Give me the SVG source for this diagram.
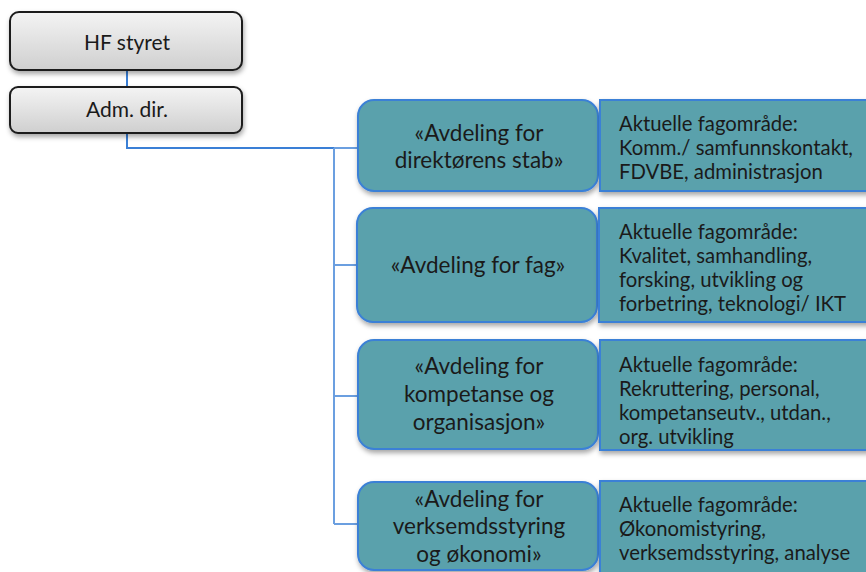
<svg xmlns="http://www.w3.org/2000/svg" width="866" height="572" viewBox="0 0 866 572">
<style>
.gray{fill:url(#gg);stroke:#1c1c1c;stroke-width:2;filter:url(#sh)}
.dept{fill:#5aa1ac;stroke:#3a80d6;stroke-width:2;filter:url(#sh)}
.area{fill:#5aa1ac;stroke:#3a80d6;stroke-width:2;filter:url(#sh)}
.t{font-family:Lato,"Liberation Sans",sans-serif;fill:#1a1a1a}
.tg{font-size:21px;text-anchor:middle}
.td{font-size:22.5px;text-anchor:middle}
.ta{font-size:20.3px}
.c1{stroke:#3a7fd6;stroke-width:2;fill:none}
.c2{stroke:#6b9fe0;stroke-width:2;fill:none}
</style>
<defs>
<linearGradient id="gg" x1="0" y1="0" x2="0" y2="1">
<stop offset="0" stop-color="#f4f4f4"/>
<stop offset="1" stop-color="#cfcfcf"/>
</linearGradient>
<filter id="sh" x="-10%" y="-10%" width="120%" height="130%">
<feDropShadow dx="1" dy="3" stdDeviation="2.5" flood-color="#000" flood-opacity="0.35"/>
</filter>
</defs>
<g id="connectors">
<path class="c1" d="M127 70V87"/>
<path class="c1" d="M127 133V148H334"/>
<path class="c2" d="M334 148V524"/>
<path class="c2" d="M334 148H358"/>
<path class="c2" d="M334 265H357"/>
<path class="c2" d="M334 396H358"/>
<path class="c2" d="M334 524H358"/>
</g>
<g id="hf-styret">
<rect class="gray" x="10" y="12" width="232" height="58" rx="9"/>
<text class="t tg" x="127" y="50">HF styret</text>
</g>
<g id="adm-dir">
<rect class="gray" x="10" y="87" width="232" height="46" rx="8"/>
<text class="t tg" x="127" y="117">Adm. dir.</text>
</g>
<g id="dept-stab">
<rect class="dept" x="358" y="100" width="240" height="91" rx="16"/>
<text class="t td" x="479" y="141">«Avdeling for</text>
<text class="t td" x="479" y="168">direktørens stab»</text>
</g>
<g id="area-stab">
<rect class="area" x="600" y="100" width="280" height="91"/>
<text class="t ta" x="619" y="131">Aktuelle fagområde:</text>
<text class="t ta" x="619" y="155">Komm./ samfunnskontakt,</text>
<text class="t ta" x="619" y="179">FDVBE, administrasjon</text>
</g>
<g id="dept-fag">
<rect class="dept" x="357" y="208" width="240" height="114" rx="16"/>
<text class="t td" x="478" y="273">«Avdeling for fag»</text>
</g>
<g id="area-fag">
<rect class="area" x="599" y="208" width="281" height="114"/>
<text class="t ta" x="619" y="239">Aktuelle fagområde:</text>
<text class="t ta" x="619" y="263">Kvalitet, samhandling,</text>
<text class="t ta" x="619" y="287">forsking, utvikling og</text>
<text class="t ta" x="619" y="311">forbetring, teknologi/ IKT</text>
</g>
<g id="dept-kompetanse">
<rect class="dept" x="358" y="340" width="240" height="109" rx="16"/>
<text class="t td" x="479" y="374">«Avdeling for</text>
<text class="t td" x="479" y="402">kompetanse og</text>
<text class="t td" x="479" y="430">organisasjon»</text>
</g>
<g id="area-kompetanse">
<rect class="area" x="600" y="340" width="280" height="110"/>
<text class="t ta" x="619" y="372">Aktuelle fagområde:</text>
<text class="t ta" x="619" y="396">Rekruttering, personal,</text>
<text class="t ta" x="619" y="420">kompetanseutv., utdan.,</text>
<text class="t ta" x="619" y="444">org. utvikling</text>
</g>
<g id="dept-okonomi">
<rect class="dept" x="358" y="482" width="240" height="88" rx="16"/>
<text class="t td" x="479" y="507">«Avdeling for</text>
<text class="t td" x="479" y="534">verksemdsstyring</text>
<text class="t td" x="479" y="562">og økonomi»</text>
</g>
<g id="area-okonomi">
<rect class="area" x="600" y="481" width="280" height="100"/>
<text class="t ta" x="619" y="512">Aktuelle fagområde:</text>
<text class="t ta" x="619" y="536">Økonomistyring,</text>
<text class="t ta" x="619" y="560">verksemdsstyring, analyse</text>
</g>
</svg>
